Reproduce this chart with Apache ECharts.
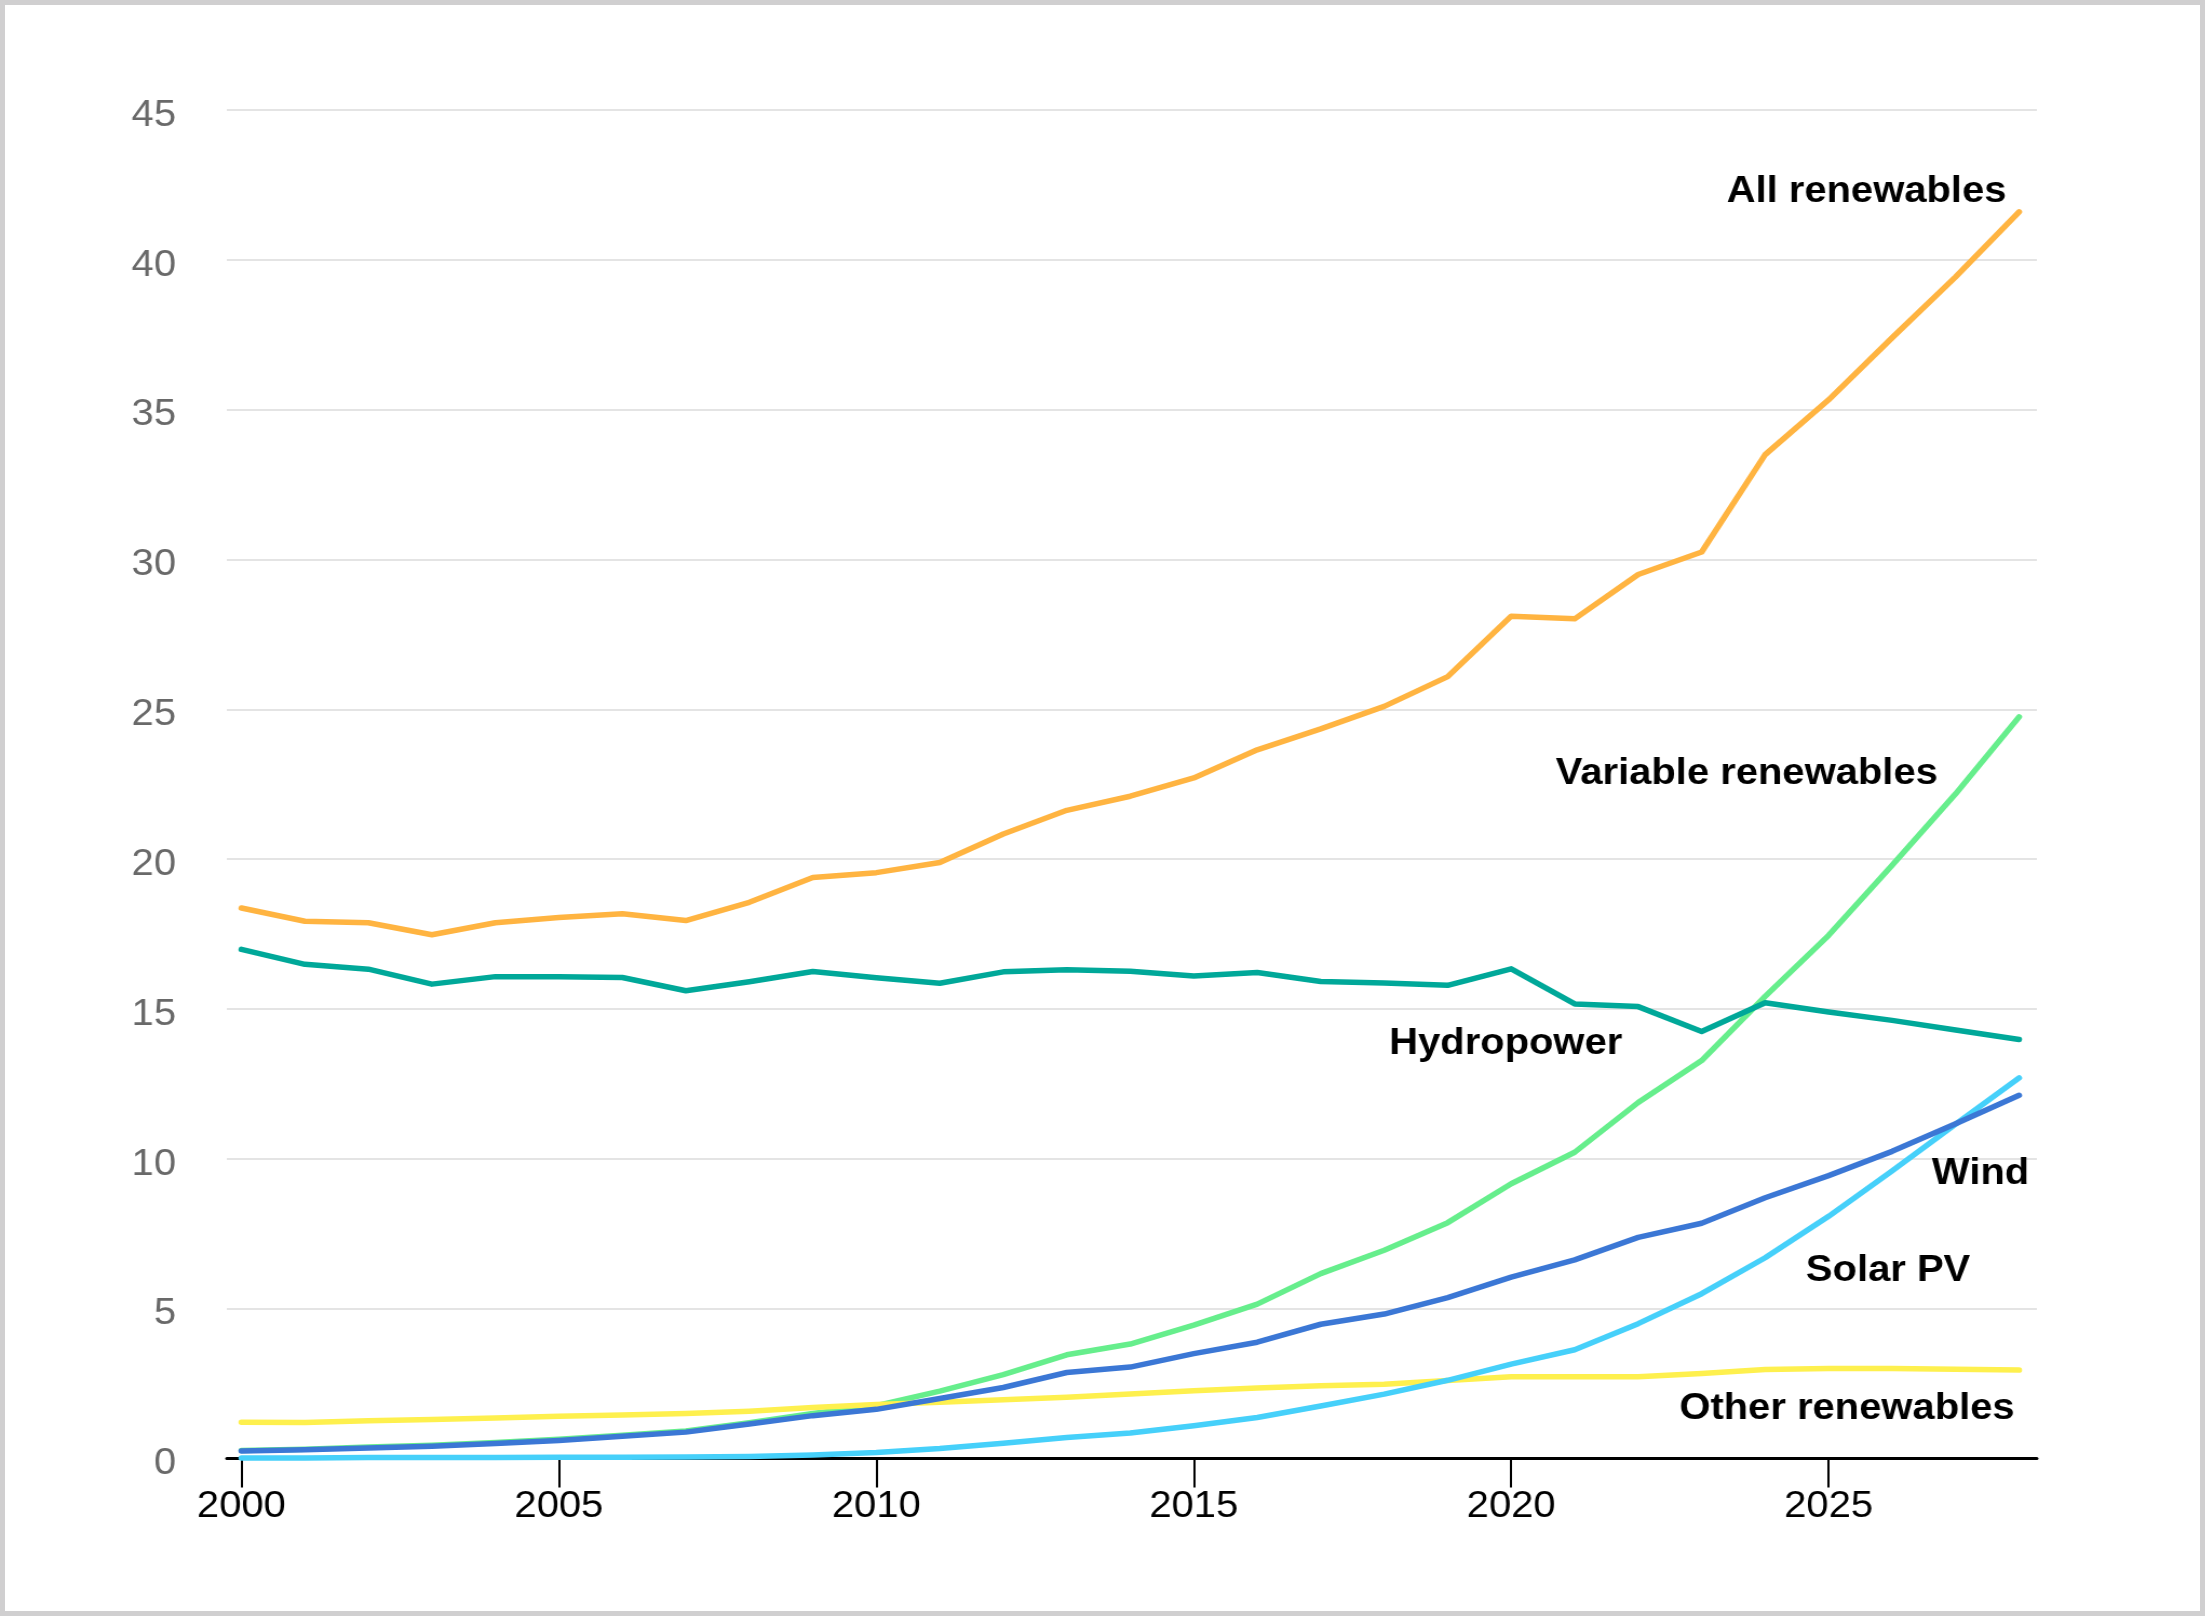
<!DOCTYPE html>
<html>
<head>
<meta charset="utf-8">
<script src="https://cdn.jsdelivr.net/npm/echarts@6/dist/echarts.min.js"></script>
<style>
html,body{margin:0;padding:0;background:#d0cfd0;width:2205px;height:1616px;overflow:hidden;}
#panel{position:absolute;left:5px;top:5px;width:2195px;height:1606px;background:#ffffff;}
#chart{position:absolute;left:0;top:0;width:2042px;height:1616px;transform:scaleX(1.08);transform-origin:0 0;}
</style>
</head>
<body>
<div id="panel"></div>
<div id="chart"></div>
<script>
// ---- data ----
const years = [2000,2001,2002,2003,2004,2005,2006,2007,2008,2009,2010,2011,2012,2013,2014,2015,2016,2017,2018,2019,2020,2021,2022,2023,2024,2025,2026,2027,2028];
const allRenewables = [18.37,17.93,17.88,17.48,17.88,18.05,18.18,17.95,18.56,19.39,19.55,19.89,20.84,21.63,22.10,22.71,23.65,24.35,25.10,26.09,28.11,28.02,29.50,30.25,33.50,35.33,37.40,39.43,41.60];
const hydropower = [16.99,16.49,16.33,15.83,16.08,16.08,16.05,15.61,15.91,16.25,16.04,15.86,16.24,16.31,16.26,16.10,16.22,15.92,15.87,15.79,16.34,15.17,15.08,14.25,15.21,14.90,14.62,14.30,13.98];
const variableRenewables = [0.27,0.31,0.38,0.44,0.53,0.64,0.78,0.92,1.19,1.50,1.76,2.25,2.80,3.46,3.82,4.45,5.15,6.17,6.95,7.87,9.17,10.22,11.88,13.28,15.42,17.46,19.80,22.18,24.75];
const wind = [0.25,0.29,0.35,0.41,0.50,0.60,0.74,0.88,1.15,1.43,1.64,2.00,2.37,2.87,3.05,3.50,3.88,4.48,4.82,5.37,6.05,6.63,7.38,7.85,8.70,9.44,10.25,11.17,12.12];
const solarPV = [0.02,0.02,0.03,0.03,0.03,0.04,0.04,0.05,0.07,0.12,0.20,0.33,0.51,0.70,0.85,1.09,1.37,1.75,2.15,2.61,3.15,3.63,4.50,5.50,6.70,8.08,9.60,11.16,12.70];
const otherRenewables = [1.21,1.20,1.26,1.30,1.35,1.41,1.45,1.50,1.58,1.70,1.80,1.88,1.96,2.04,2.15,2.26,2.35,2.43,2.48,2.60,2.73,2.73,2.73,2.84,2.97,3.00,3.00,2.98,2.95];
const xTickLabels = [2000,2005,2010,2015,2020,2025];
const seriesNames = ['All renewables','Variable renewables','Hydropower','Other renewables','Solar PV','Wind'];

// ---- chart ----
const colors = {
  'All renewables':'#FFB441',
  'Hydropower':'#00A899',
  'Variable renewables':'#66EE8C',
  'Wind':'#3B77D5',
  'Solar PV':'#46D0FA',
  'Other renewables':'#FEF04E'
};
const valuesByName = {
  'All renewables':allRenewables,
  'Hydropower':hydropower,
  'Variable renewables':variableRenewables,
  'Wind':wind,
  'Solar PV':solarPV,
  'Other renewables':otherRenewables
};
const FONT = '"Liberation Sans", Arial, Helvetica, sans-serif';

const chart = echarts.init(document.getElementById('chart'), null, {renderer:'canvas'});
chart.setOption({
  animation:false,
  backgroundColor:'transparent',
  grid:{left:210, right:156, top:110, bottom:157.5, containLabel:false},
  xAxis:{
    type:'value', min:1999.77, max:2028.28,
    axisLine:{show:true, lineStyle:{color:'#000', width:3}},
    axisTick:{show:true, length:29, lineStyle:{color:'#000', width:2}, customValues:xTickLabels},
    axisLabel:{show:true, margin:30, color:'#000', fontSize:37, fontFamily:FONT, customValues:xTickLabels, formatter:v=>String(v)},
    splitLine:{show:false}
  },
  yAxis:{
    type:'value', min:0, max:45, interval:5,
    axisLine:{show:false}, axisTick:{show:false},
    axisLabel:{margin:47, color:'#696969', fontSize:37, fontFamily:FONT, verticalAlign:'top', lineHeight:11},
    splitLine:{show:true, lineStyle:{color:'#e4e4e4', width:2}}
  },
  series: seriesNames.map(name=>({
    name, type:'line', symbol:'none', smooth:false,
    data: years.map((y,i)=>[y, valuesByName[name][i]]),
    lineStyle:{color:colors[name], width:5.5, cap:'round', join:'round'},
    itemStyle:{color:colors[name]}
  }))
});

// annotation labels (anchored in data coordinates: right edge, vertical middle)
const labelAnchors = [
  {text:'All renewables', at:[2027.80, 42.38]},
  {text:'Variable renewables', at:[2026.72, 22.94]},
  {text:'Hydropower', at:[2021.75, 13.93]},
  {text:'Wind', at:[2028.16, 9.59]},
  {text:'Solar PV', at:[2027.23, 6.36]},
  {text:'Other renewables', at:[2027.93, 1.75]}
];
chart.setOption({
  graphic: labelAnchors.map(l=>{
    const p = chart.convertToPixel({xAxisIndex:0, yAxisIndex:0}, l.at);
    return {type:'text', x:p[0], y:p[1] + 3, z:100,
      style:{text:l.text, fill:'#000', font:'bold 37px ' + FONT, align:'right', verticalAlign:'middle'}};
  })
});
</script>
</body>
</html>
